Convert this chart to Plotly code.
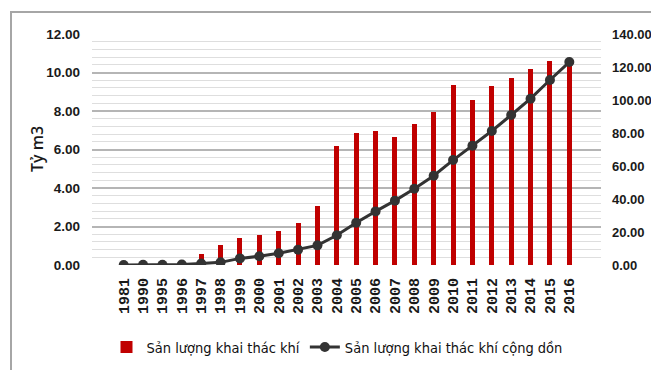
import plotly.graph_objects as go

# Annual gas output (billion m3) and cumulative output
years = ["1981", "1990", "1995", "1996", "1997", "1998", "1999", "2000", "2001",
         "2002", "2003", "2004", "2005", "2006", "2007", "2008", "2009", "2010",
         "2011", "2012", "2013", "2014", "2015", "2016"]
annual_output = [0.03, 0.05, 0.08, 0.12, 0.57, 1.06, 1.42, 1.57, 1.75,
                 2.16, 3.05, 6.20, 6.84, 6.94, 6.63, 7.31, 7.95, 9.37,
                 8.59, 9.32, 9.73, 10.16, 10.61, 10.55]
cumulative_output = [0.0, 0.1, 0.2, 0.35, 0.9, 1.6, 4.0, 5.3, 7.1,
                     9.3, 11.9, 18.0, 25.6, 32.5, 39.0, 46.2, 54.1, 63.6,
                     72.3, 81.2, 90.9, 100.8, 112.1, 123.0]

W, H = 651, 370
ML, MR, MT, MB = 92, 50, 34, 105
PW, PH = W - ML - MR, H - MT - MB

NUM_FONT = "Liberation Sans, Arial, sans-serif"
LEGEND_FONT = "DejaVu Sans Condensed, Liberation Sans, sans-serif"
MONO = "Liberation Mono, Courier New, DejaVu Sans Mono, monospace"


def px_x(p):
    return (p - ML) / PW


def px_y(p):
    return (H - MB - p) / PH


fig = go.Figure()
fig.add_trace(go.Bar(
    x=years, y=annual_output, name="Sản lượng khai thác khí",
    marker=dict(color="#C00000", line=dict(width=0)), width=0.26,
))
fig.add_trace(go.Scatter(
    x=years, y=cumulative_output, name="Sản lượng khai thác khí cộng dồn",
    yaxis="y2", mode="lines+markers",
    line=dict(color="#333333", width=3),
    marker=dict(color="#333333", size=10, symbol="circle"),
))

fig.update_layout(
    width=W, height=H,
    margin=dict(l=ML, r=MR, t=MT, b=MB, autoexpand=False),
    paper_bgcolor="white", plot_bgcolor="white",
    bargap=0,
    xaxis=dict(
        type="category", tickangle=-90, showgrid=False, ticks="",
        tickfont=dict(family=MONO, size=15, color="#1a1a1a", weight="bold"),
        ticklabelstandoff=9, showline=False, zeroline=False, automargin=False,
    ),
    yaxis=dict(
        range=[0, 12], dtick=2, tickformat=".2f",
        showgrid=True, gridcolor="#b5b5b5", gridwidth=1.5,
        minor=dict(dtick=0.4, showgrid=True, gridcolor="#dedede", gridwidth=1),
        zeroline=False, showline=False, ticks="", ticklabelstandoff=11,
        tickfont=dict(family=NUM_FONT, size=13.5, color="#1a1a1a", weight="bold"),
        automargin=False,
    ),
    yaxis2=dict(
        range=[0, 140], dtick=20, tickformat=".2f", overlaying="y", side="right",
        showgrid=False, zeroline=False, showline=False, ticks="",
        ticklabelstandoff=10,
        tickfont=dict(family=NUM_FONT, size=13, color="#1a1a1a", weight="bold"),
        automargin=False,
    ),
    showlegend=True,
    legend=dict(
        orientation="h", x=px_x(337), xanchor="center", y=px_y(347),
        yanchor="middle",
        font=dict(family=LEGEND_FONT, size=14.5, color="#111111"),
        itemwidth=30, bgcolor="rgba(0,0,0,0)", traceorder="normal",
    ),
    annotations=[dict(
        text="Tỷ m3", xref="paper", yref="paper", x=px_x(37), y=px_y(149),
        xanchor="center", yanchor="middle", textangle=-90, showarrow=False,
        font=dict(family="Open Sans, sans-serif", size=16, color="#1a1a1a",
                  weight=600),
    )],
    shapes=[dict(
        type="rect", xref="paper", yref="paper",
        x0=px_x(11), x1=px_x(W + 20), y0=px_y(H + 20), y1=px_y(12),
        line=dict(color="#a6a6a6", width=2), fillcolor="rgba(0,0,0,0)",
        layer="below",
    )],
)

fig.write_html("out.html")
